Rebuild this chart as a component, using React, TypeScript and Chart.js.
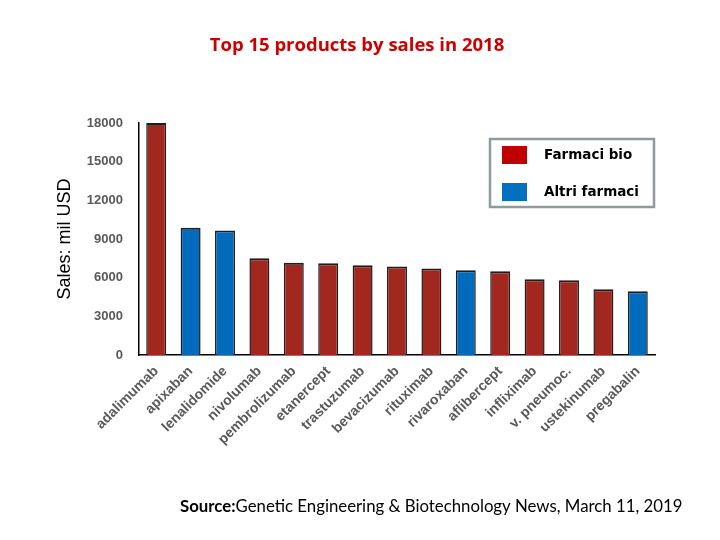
import React, { useEffect, useRef } from "react";
import { Chart, registerables } from "chart.js";

Chart.register(...registerables);

const TITLE = "Top 15 products by sales in 2018";
const Y_TITLE = "Sales: mil USD";
const SOURCE_BOLD = "Source:";
const SOURCE_TEXT = "Genetic Engineering & Biotechnology News, March 11, 2019";

const products = [
  "adalimumab", "apixaban", "lenalidomide", "nivolumab", "pembrolizumab",
  "etanercept", "trastuzumab", "bevacizumab", "rituximab", "rivaroxaban",
  "aflibercept", "infliximab", "v. pneumoc.", "ustekinumab", "pregabalin",
];
const sales = [18000, 9870, 9660, 7510, 7150, 7120, 6970, 6860, 6710, 6580, 6500, 5880, 5800, 5100, 4950];
const kinds = ["bio", "other", "other", "bio", "bio", "bio", "bio", "bio", "bio", "other", "bio", "bio", "bio", "bio", "other"];

const legendLabels = ["Farmaci bio", "Altri farmaci"];
const legendKinds = ["bio", "other"];

const yTicks = [0, 3000, 6000, 9000, 12000, 15000, 18000];

const BAR_COLORS: Record<string, string> = { bio: "#A2271F", other: "#006BBD" };
const LEGEND_COLORS: Record<string, string> = { bio: "#C00000", other: "#0070C0" };

const decorPlugin = {
  id: "decor",
  afterDraw(chart: any) {
    const ctx = chart.ctx as CanvasRenderingContext2D;
    const ca = chart.chartArea;
    ctx.save();
    // title
    ctx.fillStyle = "#CC0000";
    ctx.font = "bold 18.5px 'Open Sans'";
    ctx.textAlign = "center";
    ctx.textBaseline = "middle";
    ctx.fillText(TITLE, 357, 46);

    // legend
    const bx = ca.right - 165;
    const by = ca.top + 16;
    const bw = 164;
    const bh = 68;
    ctx.fillStyle = "#FFFFFF";
    ctx.fillRect(bx, by, bw, bh);
    ctx.strokeStyle = "#8E9B9D";
    ctx.lineWidth = 2.5;
    ctx.strokeRect(bx, by, bw, bh);
    ctx.textAlign = "left";
    ctx.font = "bold 13.5px 'DejaVu Sans'";
    legendLabels.forEach((lab, i) => {
      const cy = by + 16 + i * 37;
      ctx.fillStyle = LEGEND_COLORS[legendKinds[i]];
      ctx.fillRect(bx + 12, cy - 9, 25, 18);
      ctx.fillStyle = "#000000";
      ctx.fillText(lab, bx + 54, cy);
    });

    // source
    ctx.font = "bold 16.8px Lato";
    ctx.fillStyle = "#000000";
    ctx.textAlign = "left";
    const sx = 180;
    const sy = 507;
    ctx.fillText(SOURCE_BOLD, sx, sy);
    const w = ctx.measureText(SOURCE_BOLD).width;
    ctx.font = "16.8px Lato";
    ctx.fillText(SOURCE_TEXT, sx + w, sy);
    ctx.restore();
  },
};

export default function App() {
  const ref = useRef<HTMLCanvasElement | null>(null);
  useEffect(() => {
    if (!ref.current) return;
    const chart = new Chart(ref.current, {
      type: "bar",
      data: {
        labels: products,
        datasets: [
          {
            label: "Sales",
            data: sales,
            backgroundColor: kinds.map((k) => BAR_COLORS[k]),
            borderColor: "#1E1E1E",
            borderWidth: { left: 1.5, top: 2, right: 1.5, bottom: 0 } as any,
            borderSkipped: false,
            barPercentage: 0.58,
            categoryPercentage: 1,
          },
        ],
      },
      options: {
        responsive: false,
        animation: false,
        devicePixelRatio: 1,
        layout: { padding: { left: 0, top: 123, right: 65, bottom: 0 } },
        plugins: {
          legend: { display: false },
          title: { display: false },
          tooltip: { enabled: false },
        },
        scales: {
          x: {
            grid: { display: false, drawTicks: false },
            border: { display: true, color: "#000000", width: 1.5 },
            ticks: {
              autoSkip: false,
              maxRotation: 45,
              minRotation: 45,
              padding: 8,
              color: "#595959",
              font: { family: "'Liberation Sans'", size: 14, weight: "bold" },
            },
            afterFit: (s: any) => {
              s.height = 185;
            },
          },
          y: {
            min: 0,
            max: 18000,
            afterBuildTicks: (s: any) => {
              s.ticks = yTicks.map((v) => ({ value: v }));
            },
            grid: { display: false, drawTicks: false },
            border: { display: true, color: "#000000", width: 1.5 },
            ticks: {
              padding: 16,
              color: "#595959",
              font: { family: "'Liberation Sans'", size: 13, weight: "bold" },
              callback: (v: any) => String(v),
            },
            title: {
              display: true,
              text: Y_TITLE,
              color: "#000000",
              font: { family: "'Liberation Sans'", size: 18 },
              padding: { top: 54, bottom: 0 },
            },
            afterFit: (s: any) => {
              s.width = 139;
            },
          },
        },
      },
      plugins: [decorPlugin],
    });
    return () => chart.destroy();
  }, []);
  return (
    <div style={{ position: "fixed", left: 0, top: 0, width: 720, height: 540, background: "#FFFFFF" }}>
      <canvas ref={ref} width={720} height={540} style={{ display: "block" }} />
    </div>
  );
}
